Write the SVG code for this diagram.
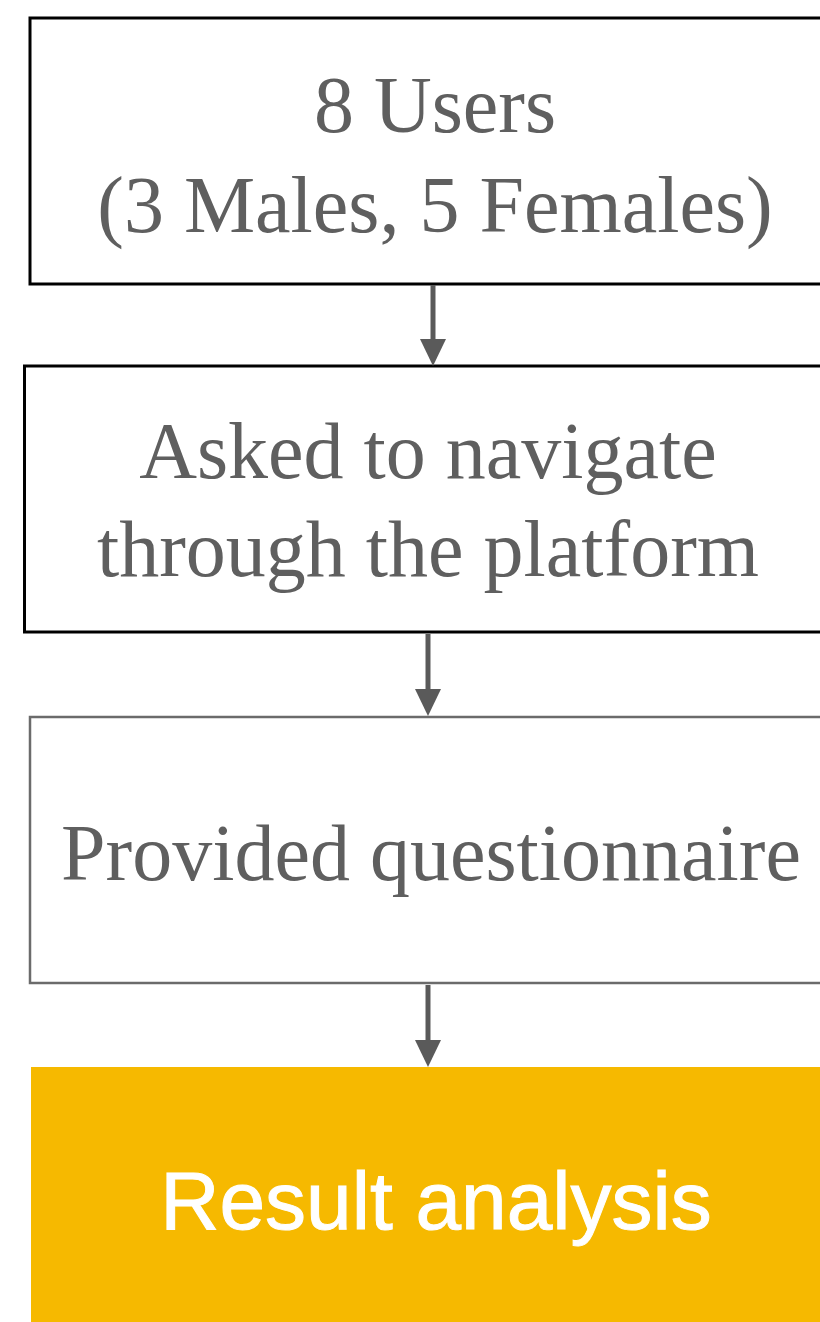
<svg xmlns="http://www.w3.org/2000/svg" width="820" height="1322" viewBox="0 0 820 1322">
<style>
.t{font-family:"Liberation Serif","Times New Roman",serif;font-size:80px;fill:#5f5f5f;text-anchor:middle}
.w{font-family:"Liberation Sans",Arial,sans-serif;font-size:82px;fill:#ffffff;stroke:#ffffff;stroke-width:1;text-anchor:middle}
.b{fill:#ffffff;stroke:#000000;stroke-width:3}
.g{fill:#ffffff;stroke:#6b6b6b;stroke-width:2.5}
.c{stroke:#5a5a5a;stroke-width:5;fill:none}
.h{fill:#5a5a5a}
</style>
<rect width="820" height="1322" fill="#ffffff"/>
<g id="node1">
<rect class="b" x="30" y="18" width="810" height="266"/>
<text class="t" x="435" y="132">8 Users</text>
<text class="t" x="435" y="232">(3 Males, 5 Females)</text>
</g>
<g id="node2">
<rect class="b" x="24.5" y="366" width="810" height="266"/>
<text class="t" x="428" y="478">Asked to navigate</text>
<text class="t" x="428" y="576">through the platform</text>
</g>
<g id="node3">
<rect class="g" x="30" y="717" width="810" height="266"/>
<text class="t" x="431" y="880">Provided questionnaire</text>
</g>
<g id="node4">
<rect x="31" y="1067" width="810" height="260" fill="#F6B900"/>
<text class="w" x="436" y="1229">Result analysis</text>
</g>
<g id="connectors">
<line class="c" x1="433" y1="285" x2="433" y2="342"/>
<polygon class="h" points="420,339 446,339 433,366"/>
<line class="c" x1="428" y1="634" x2="428" y2="692"/>
<polygon class="h" points="415,689 441,689 428,716"/>
<line class="c" x1="428" y1="985" x2="428" y2="1043"/>
<polygon class="h" points="415,1040 441,1040 428,1067"/>
</g>
</svg>
